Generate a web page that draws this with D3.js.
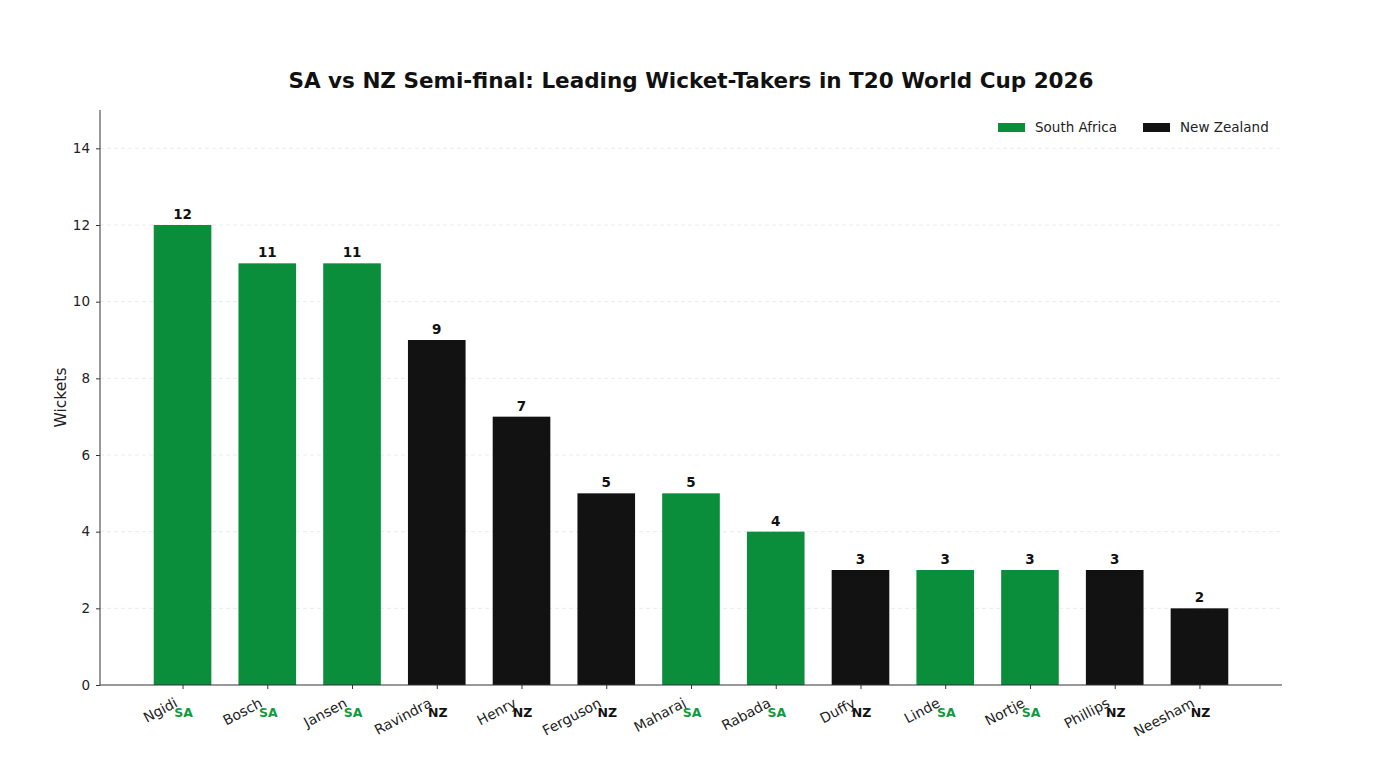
<!DOCTYPE html>
<html>
<head>
<meta charset="utf-8">
<script src="https://cdn.jsdelivr.net/npm/d3@7"></script>
<style>
  body { margin: 0; background: #fff; }
  svg { font-family: "DejaVu Sans", sans-serif; }
</style>
</head>
<body>
<svg id="chart" width="1388" height="774"></svg>
<script>
// data
const players = ['Ngidi', 'Bosch', 'Jansen', 'Ravindra', 'Henry', 'Ferguson', 'Maharaj', 'Rabada', 'Duffy', 'Linde', 'Nortje', 'Phillips', 'Neesham']
const teams = ['SA', 'SA', 'SA', 'NZ', 'NZ', 'NZ', 'SA', 'SA', 'NZ', 'SA', 'SA', 'NZ', 'NZ']
const wickets = [12, 11, 11, 9, 7, 5, 5, 4, 3, 3, 3, 3, 2]
const yTicks = [0, 2, 4, 6, 8, 10, 12, 14]
const teamNames = ['South Africa', 'New Zealand']
const teamCodes = ['SA', 'NZ']

const colors = { SA: '#0b8e3b', NZ: '#121212' }

const svg = d3.select('#chart')

const plotLeft = 100, plotRight = 1282, plotTop = 110, plotBottom = 685

// matplotlib-like x limits: bars of width 0.68 plus 5% margin
const x = d3.scaleLinear().domain([-0.974, players.length - 1 + 0.974]).range([plotLeft, plotRight])
const y = d3.scaleLinear().domain([0, 15]).range([plotBottom, plotTop])
const barW = x(0.68) - x(0)

// grid lines
svg.append('g')
  .selectAll('line')
  .data(yTicks.filter(d => d > 0))
  .enter()
  .append('line')
  .attr('x1', plotLeft)
  .attr('x2', plotRight)
  .attr('y1', d => y(d))
  .attr('y2', d => y(d))
  .attr('stroke', '#e4e4e4')
  .attr('stroke-width', 0.8)
  .attr('stroke-dasharray', '4,3')

// bars
svg.append('g')
  .selectAll('rect')
  .data(wickets)
  .enter()
  .append('rect')
  .attr('x', (d, i) => x(i) - barW / 2)
  .attr('y', d => y(d))
  .attr('width', barW)
  .attr('height', d => y(0) - y(d))
  .attr('fill', (d, i) => colors[teams[i]])

// value labels
svg.append('g')
  .selectAll('text')
  .data(wickets)
  .enter()
  .append('text')
  .attr('x', (d, i) => x(i))
  .attr('y', d => y(d) - 6)
  .attr('text-anchor', 'middle')
  .attr('font-size', 13.5)
  .attr('font-weight', 'bold')
  .attr('fill', '#111')
  .text(d => d)

// y axis
const yAxis = svg.append('g')
  .attr('transform', `translate(${plotLeft},0)`)
  .call(d3.axisLeft(y).tickValues(yTicks).tickSize(4).tickPadding(6))
yAxis.selectAll('text').attr('font-size', 13.5).attr('fill', '#222').attr('font-family', 'DejaVu Sans')
yAxis.select('.domain').attr('stroke', '#333').attr('d', `M0,${plotTop}V${plotBottom}`)
yAxis.selectAll('.tick line').attr('stroke', '#333')

// x axis
const xAxis = svg.append('g')
  .attr('transform', `translate(0,${plotBottom})`)
  .call(d3.axisBottom(x).tickValues(d3.range(players.length)).tickSize(4).tickFormat(''))
xAxis.select('.domain').attr('stroke', '#333').attr('d', `M${plotLeft},0H${plotRight}`)
xAxis.selectAll('.tick line').attr('stroke', '#333')

// rotated player names
svg.append('g')
  .selectAll('text')
  .data(players)
  .enter()
  .append('text')
  .attr('transform', (d, i) => `translate(${x(i) - 4},${plotBottom + 21}) rotate(-28)`)
  .attr('text-anchor', 'end')
  .attr('font-size', 14)
  .attr('fill', '#222')
  .text(d => d)

// team tags
svg.append('g')
  .selectAll('text')
  .data(teams)
  .enter()
  .append('text')
  .attr('x', (d, i) => x(i) + 1)
  .attr('y', plotBottom + 32)
  .attr('text-anchor', 'middle')
  .attr('font-size', 12.5)
  .attr('font-weight', 'bold')
  .attr('fill', d => d === 'SA' ? '#119a40' : '#111')
  .text(d => d)

// y label
svg.append('text')
  .attr('transform', `translate(66,${(plotTop + plotBottom) / 2}) rotate(-90)`)
  .attr('text-anchor', 'middle')
  .attr('font-size', 15.5)
  .attr('fill', '#222')
  .text('Wickets')

// title
svg.append('text')
  .attr('x', (plotLeft + plotRight) / 2)
  .attr('y', 88)
  .attr('text-anchor', 'middle')
  .attr('font-size', 21.5)
  .attr('font-weight', 'bold')
  .attr('fill', '#111')
  .text('SA vs NZ Semi-final: Leading Wicket-Takers in T20 World Cup 2026')

// legend
const legendX = [998, 1143]
const legend = svg.append('g')
  .selectAll('g')
  .data(teamNames)
  .enter()
  .append('g')
  .attr('transform', (d, i) => `translate(${legendX[i]},123)`)
legend.append('rect')
  .attr('width', 27)
  .attr('height', 9)
  .attr('fill', (d, i) => colors[teamCodes[i]])
legend.append('text')
  .attr('x', 37)
  .attr('y', 9)
  .attr('font-size', 13.5)
  .attr('fill', '#222')
  .text(d => d)
</script>
</body>
</html>
